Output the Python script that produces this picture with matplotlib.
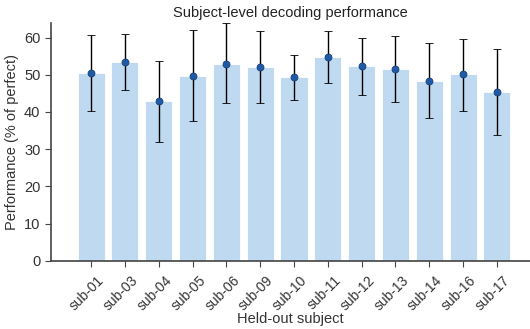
import numpy as np
import matplotlib.pyplot as plt
from matplotlib.transforms import ScaledTranslation

plt.rcParams["font.family"] = ["Liberation Sans", "DejaVu Sans"]

subjects = ["sub-01", "sub-03", "sub-04", "sub-05", "sub-06", "sub-09", "sub-10",
            "sub-11", "sub-12", "sub-13", "sub-14", "sub-16", "sub-17"]
mean_perf = [50.5, 53.3, 42.9, 49.6, 53.0, 52.0, 49.3, 54.7, 52.3, 51.5, 48.3, 50.1, 45.4]
err_low = [40.3, 45.8, 31.9, 37.5, 42.4, 42.4, 43.3, 47.7, 44.7, 42.7, 38.3, 40.4, 33.7]
err_high = [60.7, 61.0, 53.7, 61.9, 63.8, 61.7, 55.4, 61.8, 59.9, 60.4, 58.5, 59.6, 57.0]

mean_perf = np.array(mean_perf)
yerr = [mean_perf - np.array(err_low), np.array(err_high) - mean_perf]
x = np.arange(len(subjects))

fig = plt.figure(figsize=(5.3, 3.29), dpi=100)
ax = fig.add_axes([0.096, 0.207, 0.904, 0.723])

ax.bar(x, mean_perf, width=0.8, color="#bfd9f1", edgecolor="white", linewidth=0.6, zorder=1)
ax.errorbar(x, mean_perf, yerr=yerr, fmt="o", color="#1f5aa6", markersize=5,
            markeredgecolor="#163f75", markeredgewidth=0.6,
            ecolor="black", elinewidth=1, capsize=3, capthick=1, zorder=3)
ax.axhline(0, color="gray", linestyle="--", linewidth=1, zorder=2)

ax.set_xlim(-1.19, 12.98)
ax.set_ylim(0, 63.9)
ax.set_xticks(x)
ax.set_xticklabels([])
# rotated labels placed by hand, a bit right of each tick
offset = ScaledTranslation(0.06, -0.12, fig.dpi_scale_trans)
for xi, name in zip(x, subjects):
    ax.text(xi, 0, name, transform=ax.get_xaxis_transform() + offset,
            rotation=45, ha="right", va="top", rotation_mode="anchor",
            fontsize=10, color="#333333")
ax.tick_params(axis="y", labelsize=10.5, labelcolor="#333333")
ax.tick_params(axis="both", color="#444444", length=4)
ax.set_yticks([0, 10, 20, 30, 40, 50, 60])

ax.set_title("Subject-level decoding performance", fontsize=10.5, color="#222222", pad=4)
ax.set_ylabel("Performance (% of perfect)", fontsize=10.5, color="#333333", labelpad=4)
ax.set_xlabel("Held-out subject", fontsize=10.5, color="#333333")
ax.xaxis.set_label_coords(0.5, -0.215)

for side in ["top", "right"]:
    ax.spines[side].set_visible(False)
for side in ["left", "bottom"]:
    ax.spines[side].set_color("#444444")
    ax.spines[side].set_linewidth(1.2)

fig.savefig("out.png", dpi=100)
